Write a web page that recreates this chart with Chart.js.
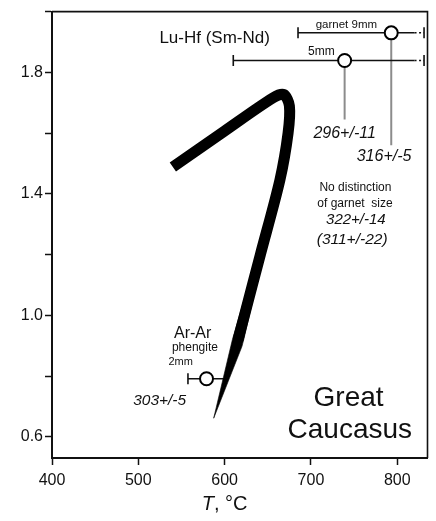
<!DOCTYPE html>
<html>
<head>
<meta charset="utf-8">
<script src="https://cdn.jsdelivr.net/npm/chart.js@4/dist/chart.umd.min.js"></script>
<style>
  html, body { margin: 0; padding: 0; background: #fff; }
  #wrap { width: 436px; height: 521px; position: relative; }
</style>
</head>
<body>
<div id="wrap"><canvas id="c"></canvas></div>
<script>
// ---------- data ----------
const xTickValues = [400, 500, 600, 700, 800];
const yTickValues = [0.6, 0.8, 1.0, 1.2, 1.4, 1.6, 1.8, 2.0];
const yTickLabels = ['0.6', '', '1.0', '', '1.4', '', '1.8', ''];

// Lu-Hf (Sm-Nd) garnet points
const luHfNames = ['5mm', 'garnet 9mm'];
const luHfT = [739, 793];
const luHfP = [1.839, 1.930];
const luHfTmin = [610, 685];
const luHfTsolidEnd = [820, 820];
const luHfTmax = [831, 831];
const luHfLeaderEndP = [1.645, 1.560];

// Ar-Ar phengite point
const arArT = [579];
const arArP = [0.791];
const arArTmin = [557.5];
const arArTmax = [600];

// P-T path (thick line)
const pathT = [540, 600, 656, 668.5, 675, 673.5, 664, 641.4, 622.94, 615.56];
const pathP = [1.488, 1.607, 1.716, 1.727, 1.690, 1.600, 1.445, 1.200, 1.000, 0.920];
// tapering arrow point at the end of the path (outline)
const arrowT = [627.5, 636.8, 622.14, 620.02, 587.3, 608.98];
const arrowP = [1.100, 1.100, 0.920, 0.897, 0.661, 0.920];

// ---------- datasets ----------
const FONT = '"Liberation Sans", Arial, Helvetica, sans-serif';
const datasets = [];

// gray leader lines
luHfT.forEach((t, i) => {
  datasets.push({
    data: [{x: t, y: luHfP[i]}, {x: t, y: luHfLeaderEndP[i]}],
    showLine: true, borderColor: '#8c8c8c', borderWidth: 2,
    pointRadius: 0, order: 6
  });
});

// error bars (solid + dotted tail with caps)
luHfT.forEach((t, i) => {
  datasets.push({
    data: [{x: luHfTmin[i], y: luHfP[i]}, {x: luHfTsolidEnd[i], y: luHfP[i]}, {x: luHfTmax[i], y: luHfP[i]}],
    showLine: true, borderColor: '#111', borderWidth: 1.5,
    segment: { borderDash: ctx => ctx.p0DataIndex === 1 ? [2, 2.5] : undefined },
    pointStyle: 'line', rotation: 90, pointRadius: [5.5, 0, 5.5],
    pointBorderWidth: 1.6, pointBorderColor: '#111', order: 5
  });
});
arArT.forEach((t, i) => {
  datasets.push({
    data: [{x: arArTmin[i], y: arArP[i]}, {x: arArTmax[i], y: arArP[i]}],
    showLine: true, borderColor: '#111', borderWidth: 1.5,
    pointStyle: 'line', rotation: 90, pointRadius: [5.5, 0],
    pointBorderWidth: 1.6, pointBorderColor: '#111', order: 5
  });
});

// thick P-T path
datasets.push({
  data: pathT.map((t, i) => ({x: t, y: pathP[i]})),
  showLine: true, borderColor: '#000', borderWidth: 11,
  borderCapStyle: 'butt', borderJoinStyle: 'round', tension: 0.3,
  pointRadius: 0, order: 3
});
// arrow point
datasets.push({
  data: arrowT.map((t, i) => ({x: t, y: arrowP[i]})).concat([{x: arrowT[0], y: arrowP[0]}]),
  showLine: true, borderColor: '#000', borderWidth: 0.6, backgroundColor: '#000',
  borderJoinStyle: 'round', fill: 'shape', tension: 0, pointRadius: 0, order: 4
});

// open circles
datasets.push({
  data: luHfT.map((t, i) => ({x: t, y: luHfP[i]})).concat(arArT.map((t, i) => ({x: t, y: arArP[i]}))),
  showLine: false, pointRadius: 6.5, pointBackgroundColor: '#fff',
  pointBorderColor: '#000', pointBorderWidth: 2, order: 1
});

// ---------- text annotations (data coordinates) ----------
const notes = [
  {text: 'Lu-Hf (Sm-Nd)', t: 588.4, p: 1.913, size: 17},
  {text: 'garnet 9mm', t: 741, p: 1.958, size: 11.5},
  {text: '5mm', t: 712, p: 1.867, size: 12},
  {text: '296+/-11', t: 739, p: 1.597, size: 16, style: 'italic'},
  {text: '316+/-5', t: 784.7, p: 1.524, size: 16, style: 'italic'},
  {text: 'No distinction', t: 751.5, p: 1.420, size: 12},
  {text: 'of garnet  size', t: 751, p: 1.369, size: 12},
  {text: '322+/-14', t: 752, p: 1.314, size: 15, style: 'italic'},
  {text: '(311+/-22)', t: 747.7, p: 1.250, size: 15.5, style: 'italic'},
  {text: 'Ar-Ar', t: 563, p: 0.939, size: 16},
  {text: 'phengite', t: 565.6, p: 0.893, size: 12},
  {text: '2mm', t: 549, p: 0.845, size: 11},
  {text: '303+/-5', t: 524.7, p: 0.718, size: 15.5, style: 'italic'},
  {text: 'Great', t: 743.6, p: 0.726, size: 28},
  {text: 'Caucasus', t: 745, p: 0.621, size: 28}
];

const notesPlugin = {
  id: 'notes',
  afterDatasetsDraw(chart) {
    const {ctx, scales: {x, y}} = chart;
    ctx.save();
    ctx.fillStyle = '#111';
    ctx.textAlign = 'center';
    ctx.textBaseline = 'middle';
    notes.forEach(n => {
      ctx.font = (n.style ? n.style + ' ' : '') + n.size + 'px ' + FONT;
      ctx.fillText(n.text, x.getPixelForValue(n.t), y.getPixelForValue(n.p));
    });
    ctx.restore();
  },
  afterDraw(chart) {
    const {ctx, chartArea: a, scales: {x}} = chart;
    ctx.save();
    // frame top/right
    ctx.strokeStyle = '#111';
    ctx.lineWidth = 1.6;
    ctx.beginPath();
    ctx.moveTo(a.left, a.top);
    ctx.lineTo(a.right, a.top);
    ctx.lineTo(a.right, a.bottom);
    ctx.stroke();
    // axis title: italic T, then ", °C"
    const cx = x.getPixelForValue(600);
    const cy = a.bottom + 46;
    ctx.fillStyle = '#111';
    ctx.textBaseline = 'middle';
    ctx.font = 'italic 20px ' + FONT;
    const w1 = ctx.measureText('T').width;
    ctx.font = '20px ' + FONT;
    const w2 = ctx.measureText(', °C').width;
    const x0 = cx - (w1 + w2) / 2;
    ctx.textAlign = 'left';
    ctx.font = 'italic 20px ' + FONT;
    ctx.fillText('T', x0, cy);
    ctx.font = '20px ' + FONT;
    ctx.fillText(', °C', x0 + w1, cy);
    ctx.restore();
  }
};

new Chart(document.getElementById('c'), {
  type: 'scatter',
  data: { datasets },
  options: {
    responsive: true,
    maintainAspectRatio: false,
    animation: false,
    layout: { padding: { top: 8, right: 8, left: 0, bottom: 0 } },
    plugins: { legend: { display: false }, tooltip: { enabled: false } },
    scales: {
      x: {
        type: 'linear', min: 400, max: 835,
        afterBuildTicks: s => { s.ticks = xTickValues.map(v => ({value: v})); },
        afterFit: s => { s.height = 63; },
        grid: { drawOnChartArea: false, drawTicks: true, tickLength: 7, tickColor: '#111', tickWidth: 1.5 },
        border: { display: true, color: '#111', width: 2 },
        ticks: { color: '#111', font: { family: FONT, size: 16 }, padding: 6, autoSkip: false, maxRotation: 0 }
      },
      y: {
        type: 'linear', min: 0.53, max: 2.0,
        afterBuildTicks: s => { s.ticks = yTickValues.map(v => ({value: v})); },
        afterFit: s => { s.width = 52; },
        grid: { drawOnChartArea: false, drawTicks: true, tickLength: 7, tickColor: '#111', tickWidth: 1.5 },
        border: { display: true, color: '#111', width: 2 },
        ticks: {
          color: '#111', font: { family: FONT, size: 16 }, padding: 2, autoSkip: false,
          callback: (v, i) => yTickLabels[i]
        }
      }
    }
  },
  plugins: [notesPlugin]
});
</script>
</body>
</html>
